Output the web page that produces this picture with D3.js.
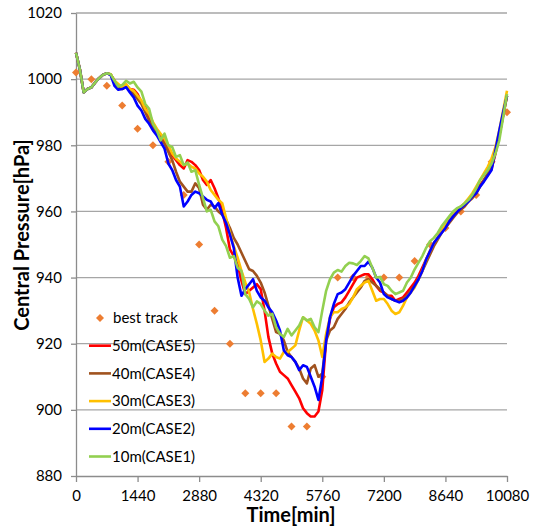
<html>
<head>
<meta charset="utf-8">
<script src="https://d3js.org/d3.v7.min.js"></script>
<style>
  body { margin: 0; background: #fff; }
  text { font-family: Lato, "Open Sans", sans-serif; }
</style>
</head>
<body>
<svg id="viz" width="533" height="526"></svg>
<script>
// model output times (min)
var times = [0,90,180,270,360,450,540,630,720,810,
  900,990,1080,1170,1260,1350,1440,1530,1620,1710,
  1800,1890,1980,2070,2160,2250,2340,2430,2520,2610,
  2700,2790,2880,2970,3060,3150,3240,3330,3420,3510,
  3600,3690,3780,3870,3960,4050,4140,4230,4320,4410,
  4500,4590,4680,4770,4860,4950,5040,5130,5220,5310,
  5400,5490,5580,5670,5760,5850,5940,6030,6120,6210,
  6300,6390,6480,6570,6660,6750,6840,6930,7020,7110,
  7200,7290,7380,7470,7560,7650,7740,7830,7920,8010,
  8100,8190,8280,8370,8460,8550,8640,8730,8820,8910,
  9000,9090,9180,9270,9360,9450,9540,9630,9720,9810,
  9900,9990,10080];

var case5 = [1008,1003,996,997,997.5,999,1000.3,1001.3,1001.8,1001.4,
  999.5,998,997.5,998.3,997,996.8,995.5,993,991.5,988.5,
  986,984.5,983,981.5,979.5,977,975.5,974,973,975.5,
  975,974,972.5,969.5,968,969.5,967,964,960,955,
  948.5,946.5,944,939,935,936,937,938,936.5,930,
  922,917,914,911.5,910.5,909.5,907.5,905.5,903.5,900.5,
  899,898,898,899.5,906,921,927.5,931,932,932.5,
  934,936,938,940,940.5,941,941,939.5,937.5,936,
  935.5,934.5,934.5,933,933.5,934,935.5,937,938.5,940.5,
  943,945.5,948,950,952,954,955.5,957,958.5,960,
  961,962,963.5,964.5,966,968,969.5,971,973,977.5,
  983,989,995];
var case4 = [1008,1003,996,997,997.5,999,1000.3,1001.3,1001.8,1001.4,
  999.5,997.5,997,997.8,996.5,995.5,994,992.5,990,987.5,
  985.5,984,982,980.5,978,975.5,972,969,967.5,966,
  966,968.5,967,962,960.5,962,961.5,960,959,957.5,
  955,952,950,947.5,945,942.5,942,940.5,938.5,935.5,
  931.5,927.5,923.5,923,921,917.5,916,914.5,912.5,909.5,
  908,912.5,913.5,910,911,921,924,925,927.5,929,
  930.5,932.5,934,935.5,937,939,939.5,938.5,937.5,936.5,
  935.5,934.5,933.5,933,933,933.5,934.5,936,937.5,939.5,
  942,944.5,947,949.5,951.5,953.5,955,956.5,958,959.5,
  960.5,961.5,963,964,965.5,967.5,969.5,971.5,973.5,978,
  983,989,995];
var case3 = [1008,1003,996,997,997.5,999,1000.3,1001.3,1001.8,1001.5,
  999.5,998.5,997.5,998.5,997,996.5,995,993.5,991,989.5,
  987,985,983.5,982,980,977.5,976,975,974,974.5,
  973.5,973,971.5,970.5,969,966.5,965,963.5,962.5,958,
  953.5,949.5,946,942,938.5,935.5,930.5,926,921,914.5,
  915.5,917,916,915.5,917.5,917.5,918.5,919.5,924,928,
  927,926,924,921,916,923,928,929.5,929.5,930.5,
  931,932,934,936.5,937.5,938.5,939,936,933,933.5,
  933.5,932,930,929,929.5,931.5,934,935.5,937,939.5,
  942,945.5,948,950.5,952,954,956,957.5,959,960.5,
  961.5,962.5,964,965.5,967.5,969.5,971.5,973.5,976,979.5,
  984.5,990.5,996.5];
var case2 = [1008,1003,996,997,997.5,999,1000.3,1001.3,1001.8,1001.2,
  998,996.8,997,997.6,996,994.5,992,990.5,988,986.5,
  984.5,983,981,979,974.5,972.5,969.5,967.5,961.5,963,
  965,966,965.5,964.5,963.5,963,961,962.5,959,956.5,
  953,949,940,934.5,936.5,938,939.5,936,934,933,
  931,929.5,927,924,918,916.5,916,914.5,912,913.5,
  913,910,907,903,910,921,928,932,935,935.5,
  936.5,938.5,940.5,942,943.5,943.5,944.8,943,940,938.5,
  935,934,933.5,933,932.5,933,934,935.5,937.5,939.5,
  942,945.5,948,950.5,952,953.5,955,957,958.5,959.8,
  961,962,963,964.5,965.5,967.5,969,970.8,972.5,978.5,
  984.5,990,995];
var case1 = [1008,1003,996,997,997.5,999,1000.3,1001.3,1001.8,1001.5,
  999.5,997.8,998.2,999.5,998.7,999.2,997.5,996.2,992.5,991,
  986.5,984.5,981.5,983.5,980,979.5,976.5,977,974,974.8,
  972,972.5,968,964,960,960.5,957,955.5,951.5,949.5,
  946,946.5,943,942,935,933.5,931,932.8,932,930,
  928.5,929,925,923,922,924.5,922.5,924,925.5,928,
  927,927.5,925,923.5,930,936,939.5,941.5,942.3,941.8,
  943.5,944.5,944.3,943.8,945,946.5,945.8,943,940,940.2,
  938,937.5,936,935,935.5,936,938.5,940,942.5,944.5,
  946.5,949,951,952,953.5,955.5,957,958.5,960,961,
  961.5,962.5,963.5,965,967,969.5,971,972.5,974.5,977.5,
  981.5,988.5,995.5];

// best track (6-hourly)
var bestTime = [0,360,720,1080,1440,1800,2160,2520,2880,3240,3600,3960,4320,4680,5040,5400,5760,6120,6480,6840,
  7200,7560,7920,8280,8640,9000,9360,9720,10080];
var bestPres = [1002,1000,998,992,985,980,975,965,950,930,920,905,905,905,895,895,910,940,940,940,
  940,940,945,950,955,960,965,975,990];

var seriesNames = ["50m(CASE5)","40m(CASE4)","30m(CASE3)","20m(CASE2)","10m(CASE1)"];
var seriesValues = [case5, case4, case3, case2, case1];
var seriesColors = ["#ff0000","#a0521e","#ffc000","#0000ff","#92d050"];

var xTicks = [0,1440,2880,4320,5760,7200,8640,10080];
var yTicks = [880,900,920,940,960,980,1000,1020];

var plotL = 76, plotR = 507, plotT = 13, plotB = 476;
var svg = d3.select("#viz");

var x = d3.scaleLinear().domain([0,10080]).range([plotL,plotR]);
var y = d3.scaleLinear().domain([880,1020]).range([plotB,plotT]);

// gridlines
svg.append("g")
  .selectAll("line")
  .data(yTicks.slice(1))
  .enter().append("line")
  .attr("x1", plotL).attr("x2", plotR)
  .attr("y1", function(d){ return y(d); })
  .attr("y2", function(d){ return y(d); })
  .attr("stroke", "#a6a6a6")
  .attr("stroke-width", 1.3);

// axes
var yAxis = svg.append("g")
  .attr("transform", "translate(" + plotL + ",0)")
  .call(d3.axisLeft(y).tickValues(yTicks).tickSize(5).tickPadding(9).tickSizeOuter(0)
        .tickFormat(function(d){ return d; }));
var xAxis = svg.append("g")
  .attr("transform", "translate(0," + plotB + ")")
  .call(d3.axisBottom(x).tickValues(xTicks).tickSize(6).tickPadding(8).tickSizeOuter(0)
        .tickFormat(function(d){ return d; }));
[yAxis, xAxis].forEach(function(a){
  a.select(".domain").attr("stroke", "#8c8c8c").attr("stroke-width", 1.3);
  a.selectAll(".tick line").attr("stroke", "#8c8c8c").attr("stroke-width", 1.3);
  a.selectAll(".tick text").attr("fill", "#000").style("font-size", "15px")
    .style("font-family", "Lato, 'Open Sans', sans-serif");
});

// axis titles
svg.append("text")
  .attr("x", 291).attr("y", 522)
  .attr("text-anchor", "middle")
  .style("font-size", "20px").style("font-weight", "bold")
  .text("Time[min]");
svg.append("text")
  .attr("transform", "translate(29,235) rotate(-90)")
  .attr("text-anchor", "middle")
  .style("font-size", "20px").style("font-weight", "bold")
  .text("Central Pressure[hPa]");

// best track diamonds (rotated squares)
var diamond = d3.symbol().type(d3.symbolSquare).size(32);
svg.append("g")
  .selectAll("path")
  .data(bestTime)
  .enter().append("path")
  .attr("d", diamond)
  .attr("transform", function(d, i){ return "translate(" + x(d) + "," + y(bestPres[i]) + ") rotate(45)"; })
  .attr("fill", "#ed7d31");

// model lines
var line = d3.line()
  .x(function(d, i){ return x(times[i]); })
  .y(function(d){ return y(d); });
seriesValues.forEach(function(vals, s){
  svg.append("path")
    .datum(vals)
    .attr("d", line)
    .attr("fill", "none")
    .attr("stroke", seriesColors[s])
    .attr("stroke-width", 2.6)
    .attr("stroke-linejoin", "round");
});

// legend
var lg = svg.append("g");
lg.append("path")
  .attr("d", diamond)
  .attr("transform", "translate(100,318) rotate(45)")
  .attr("fill", "#ed7d31");
lg.append("text")
  .attr("x", 113).attr("y", 318).attr("dy", "0.35em")
  .style("font-size", "15px")
  .text("best track");
seriesNames.forEach(function(name, s){
  var ly = 345.7 + s * 27.7;
  lg.append("line")
    .attr("x1", 89).attr("x2", 111)
    .attr("y1", ly).attr("y2", ly)
    .attr("stroke", seriesColors[s])
    .attr("stroke-width", 2.6);
  lg.append("text")
    .attr("x", 112).attr("y", ly).attr("dy", "0.35em")
    .style("font-size", "15px")
    .text(name);
});
</script>
</body>
</html>
